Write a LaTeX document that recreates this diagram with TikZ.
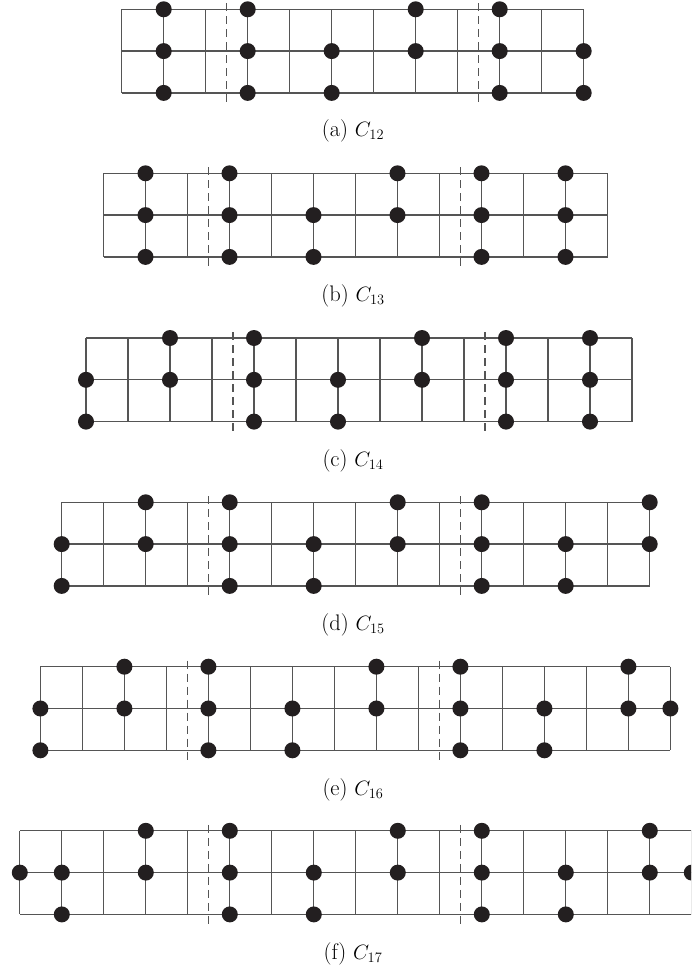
\documentclass[tikz,border=0pt]{standalone}
\definecolor{dotcol}{RGB}{35,31,32}
\definecolor{linecol}{RGB}{85,85,85}
\tikzset{
  gridline/.style={draw=linecol, line width=1.3pt},
  sepline/.style={draw=linecol, line width=1.1pt, dash pattern=on 8pt off 5pt},
  gdot/.style={circle, fill=dotcol, inner sep=0pt, minimum size=16pt},
  captext/.style={inner sep=0pt, font=\fontsize{22.5}{26}\selectfont}
}
% #1 name, #2 x0, #3 top, #4 ncols, #5 dash1, #6 dash2, #7 dots (col/row)
\newcommand\gridfig[7]{%
  \begin{scope}[shift={(#2,#3)}]
    \foreach \r in {0,1,2} \draw[gridline] (0,\r*41.8) -- (#4*42,\r*41.8);
    \foreach \c in {0,...,#4} \draw[gridline] (\c*42,0) -- (\c*42,83.6);
    \draw[sepline] (#5*42,-6) -- (#5*42,95.6);
    \draw[sepline] (#6*42,-6) -- (#6*42,95.6);
    \foreach \c/\r in {#7} \node[gdot] (#1-\c-\r) at (\c*42,\r*41.8) {};
  \end{scope}}
\begin{document}
\begin{tikzpicture}[x=1pt,y=-1pt]
\useasboundingbox (0,0) rectangle (691,971);
\clip (0,0) rectangle (691,971);
\gridfig{A}{121.7}{9.3}{11}{2.5}{8.5}{1/0,1/1,1/2,3/0,3/1,3/2,5/1,5/2,7/0,7/1,9/0,9/1,9/2,11/1,11/2}
\node[captext] (capA) at (353,131) {(a) $C_{12}$};
\gridfig{B}{103.5}{173.3}{12}{2.5}{8.5}{1/0,1/1,1/2,3/0,3/1,3/2,5/1,5/2,7/0,7/1,9/0,9/1,9/2,11/0,11/1,11/2}
\node[captext] (capB) at (353,295.5) {(b) $C_{13}$};
\gridfig{C}{86}{338}{13}{3.5}{9.5}{0/1,0/2,2/0,2/1,4/0,4/1,4/2,6/1,6/2,8/0,8/1,10/0,10/1,10/2,12/0,12/1,12/2}
\node[captext] (capC) at (353,460.5) {(c) $C_{14}$};
\gridfig{D}{61.7}{502.3}{14}{3.5}{9.5}{0/1,0/2,2/0,2/1,4/0,4/1,4/2,6/1,6/2,8/0,8/1,10/0,10/1,10/2,12/1,12/2,14/0,14/1}
\node[captext] (capD) at (353,625) {(d) $C_{15}$};
\gridfig{E}{40.4}{666.7}{15}{3.5}{9.5}{0/1,0/2,2/0,2/1,4/0,4/1,4/2,6/1,6/2,8/0,8/1,10/0,10/1,10/2,12/1,12/2,14/0,14/1,15/1}
\node[captext] (capE) at (353,789.5) {(e) $C_{16}$};
\gridfig{F}{19.8}{830.8}{16}{4.5}{10.5}{0/1,1/1,1/2,3/0,3/1,5/0,5/1,5/2,7/1,7/2,9/0,9/1,11/0,11/1,11/2,13/1,13/2,15/0,15/1,16/1}
\node[captext] (capF) at (353,953.5) {(f) $C_{17}$};
\end{tikzpicture}
\end{document}
